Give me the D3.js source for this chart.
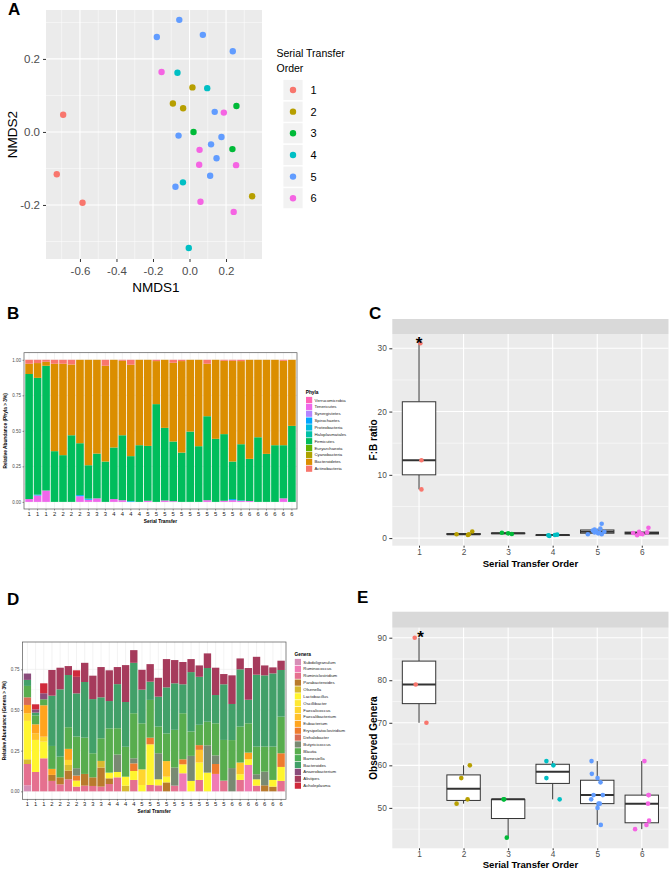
<!DOCTYPE html>
<html><head><meta charset="utf-8">
<script src="https://cdn.jsdelivr.net/npm/d3@7"></script>
<style>body{margin:0;background:#fff}svg{display:block;font-family:"Liberation Sans",Arial,Helvetica,sans-serif}</style>
</head><body><svg id="c" width="670" height="870"></svg>
<script>
// ---------------- DATA ----------------
const orderLevels = [1,2,3,4,5,6];
const orderColors = ["#F8766D","#B79F00","#00BA38","#00BFC4","#619CFF","#F564E3"];

// Panel A – NMDS
const nmdsOrder = [1,1,1, 2,2,2,2, 3,3,3, 4,4,4,4, 5,5,5,5,5,5,5,5,5,5,5, 6,6,6,6,6,6,6];
const nmds1 = [-0.692,-0.727,-0.586, 0.016,-0.091,-0.035,0.343, 0.257,0.022,0.235, -0.066,0.097,-0.036,-0.004,
  -0.056,-0.179,0.073,0.237,0.138,-0.06,0.175,0.118,0.148,0.113,-0.077, -0.153,0.188,0.055,0.053,0.255,0.06,0.242];
const nmds2 = [0.047,-0.116,-0.194, 0.122,0.078,0.065,-0.176, 0.071,0.0,-0.047, 0.162,0.12,-0.138,-0.318,
  0.307,0.26,0.266,0.221,0.055,-0.01,-0.014,-0.034,-0.072,-0.12,-0.15, 0.164,0.053,-0.049,-0.09,-0.091,-0.191,-0.219];
const nmdsXTicks = [-0.6,-0.4,-0.2,0.0,0.2];
const nmdsYTicks = [-0.2,0.0,0.2];

// Panels B/D – sample labels
const sampleLabels = ["1","1","1","2","2","2","2","3","3","3","4","4","4","4","5","5","5","5","5","5","5","5","5","5","5","6","6","6","6","6","6","6"];

// Panel B – phyla
const phyla = ["Verrucomicrobia","Tenericutes","Synergistetes","Spirochaetes","Proteobacteria","Haloplasmatales","Firmicutes","Euryarchaeota","Cyanobacteria","Bacteroidetes","Actinobacteria"];
const phylaColors = ["#FF63B6","#EF67EB","#B385FF","#00A6FF","#00BADE","#00C1A7","#00BD5C","#64B200","#AEA200","#DB8E00","#F8766D"];
const verrucomicrobia = [0,0,0,0,0,0,0,0,0,0,0,0,0,0,0,0,0,0,0,0,0,0,0,0,0,0,0,0,0,0,0,0];
const tenericutes = [0.02,0.045,0.08,0,0,0,0.04,0.015,0.025,0,0.02,0.012,0,0,0.008,0,0.01,0.005,0,0,0,0.012,0,0.008,0.012,0.006,0.006,0,0,0,0.025,0];
const synergistetes = [0,0,0,0,0,0,0,0,0,0,0,0,0,0,0,0,0,0,0,0,0,0,0,0,0,0,0,0,0,0,0,0];
const spirochaetes = [0,0.006,0,0,0,0,0.008,0.008,0,0,0,0,0.005,0,0,0,0,0,0,0,0,0,0,0,0.008,0.004,0,0,0,0,0,0];
const proteobacteria = [0,0,0,0,0,0,0,0,0,0,0,0,0,0,0,0,0,0,0,0,0,0,0,0,0,0,0,0,0,0,0,0];
const haloplasmatales = [0,0,0,0,0,0,0,0,0,0,0,0,0,0,0,0,0,0,0,0,0,0,0,0,0,0,0,0,0,0,0,0];
const firmicutes = [0.88,0.822,0.878,0.357,0.329,0.469,0.365,0.235,0.315,0.284,0.363,0.457,0.317,0.399,0.386,0.688,0.511,0.42,0.347,0.495,0.392,0.591,0.444,0.469,0.264,0.396,0.297,0.455,0.338,0.399,0.374,0.535];
const euryarchaeota = [0,0,0,0,0,0,0,0,0,0,0,0,0,0,0,0,0,0,0,0,0,0,0,0,0,0,0,0,0,0,0,0];
const cyanobacteria = [0,0,0,0,0,0,0,0,0,0,0,0,0,0,0,0,0,0,0,0,0,0,0,0,0,0,0,0,0,0,0,0];
const bacteroidetes = [0.072,0.104,0.028,0.615,0.643,0.498,0.587,0.742,0.66,0.674,0.617,0.524,0.643,0.601,0.606,0.303,0.479,0.554,0.644,0.505,0.608,0.369,0.556,0.516,0.709,0.585,0.697,0.545,0.662,0.601,0.594,0.465];
const actinobacteria = [0.028,0.023,0.014,0.028,0.028,0.033,0,0,0,0.042,0,0.007,0.035,0,0,0.009,0,0.021,0.009,0,0,0.028,0,0.007,0.007,0.009,0,0,0,0,0.007,0];
const phylaValues = [verrucomicrobia,tenericutes,synergistetes,spirochaetes,proteobacteria,haloplasmatales,firmicutes,euryarchaeota,cyanobacteria,bacteroidetes,actinobacteria];
const phylaTicks = [0,0.25,0.5,0.75,1.0];

// Panel D – genera
const genera = ["Subdoligranulum","Ruminococcus","Ruminiclostridium","Parabacteroides","Olsenella","Lactobacillus","Oscillibacter","Faecalicoccus","Faecalibacterium","Eubacterium","Erysipelatoclostridium","Dehalobacter","Butyricicoccus","Blautia","Barnesiella","Bacteroides","Anaerobacterium","Alistipes","Acholeplasma"];
const generaColors = ["#D68EB6","#F07AB4","#E5708F","#B97A2C","#D8B92F","#FFF52E","#FFE833","#FFD52E","#FFC12B","#FFA41E","#EE7B2E","#D86C55","#798A72","#58AD4E","#4DAE56","#42A069","#8A4C7B","#A63B5C","#D02A3C"];
const subdoligranulum = [0.037,0,0,0,0,0,0,0,0,0,0,0,0,0,0,0,0,0,0,0,0,0,0,0,0,0,0,0,0,0,0,0];
const ruminococcus = [0,0,0,0,0,0,0,0,0,0,0,0,0,0,0,0,0,0,0,0.111,0,0,0,0.107,0,0,0,0.162,0,0,0,0];
const ruminiclostridium = [0.131,0.119,0.203,0.064,0.043,0.074,0.029,0.035,0.033,0.029,0.045,0.086,0,0.07,0,0.039,0.037,0,0.035,0,0,0.07,0,0,0.066,0,0.07,0,0.035,0,0,0.064];
const parabacteroides = [0,0,0,0.037,0.043,0.053,0,0.072,0.053,0.117,0.035,0,0,0,0,0,0,0.055,0,0,0,0,0,0,0,0,0,0,0,0.037,0.029,0];
const olsenella = [0.029,0,0,0,0,0.035,0,0,0,0.041,0,0,0.035,0,0,0,0,0,0,0,0,0,0,0,0,0,0,0,0,0,0,0];
const lactobacillus = [0.236,0.197,0.102,0,0,0,0.037,0,0,0,0.035,0.033,0.055,0.055,0.039,0.25,0.037,0.035,0,0.055,0.064,0.107,0.115,0,0,0,0.035,0.035,0.039,0,0.041,0.086];
const oscillibacter = [0,0,0,0,0,0,0,0,0,0,0,0,0,0,0,0,0,0,0,0,0,0,0,0,0,0,0,0,0,0,0,0];
const faecalicoccus = [0.047,0,0.031,0,0,0.031,0,0,0,0,0,0,0,0,0.096,0,0,0,0,0,0,0,0,0,0,0,0,0,0,0,0,0];
const faecalibacterium = [0,0.041,0,0,0,0,0,0,0,0,0,0,0,0,0,0,0,0.096,0,0,0,0.078,0,0,0,0,0.072,0,0,0,0,0];
const eubacterium = [0.051,0.055,0.193,0.037,0,0.068,0,0,0,0,0,0,0,0,0,0,0,0,0,0,0,0,0,0,0,0,0,0.041,0,0,0,0];
const erysipelatoclostridium = [0,0,0,0,0,0,0.031,0,0,0,0,0,0,0.047,0,0.041,0,0,0,0.031,0,0.029,0,0.061,0,0,0,0,0,0,0,0.084];
const dehalobacter = [0.047,0,0,0,0,0,0,0,0,0,0,0,0,0,0,0,0,0,0,0,0,0,0,0,0,0,0,0,0,0,0,0];
const butyricicoccus = [0,0,0,0,0,0,0.045,0,0,0,0,0.107,0,0.031,0,0,0.16,0,0.111,0,0.154,0,0.168,0.053,0,0.143,0,0,0.031,0.084,0,0];
const blautia = [0.07,0.055,0.037,0.141,0.127,0.133,0.195,0.223,0.148,0.139,0.272,0.162,0.184,0.277,0.283,0.232,0.164,0.17,0.232,0.283,0.15,0.125,0.145,0.197,0.25,0.172,0.221,0.18,0.17,0.154,0.205,0.225];
const barnesiella = [0,0,0,0,0,0,0,0,0,0,0,0,0,0,0,0,0,0,0,0,0,0,0,0,0,0,0,0,0,0,0,0];
const bacteroides = [0.037,0.017,0,0.309,0.414,0.321,0.265,0.342,0.333,0.252,0.168,0.271,0.275,0.31,0.207,0.112,0.184,0.283,0.286,0.178,0.365,0.295,0.33,0.174,0.342,0.222,0.352,0.145,0.442,0.438,0.45,0.287];
const anaerobacterium = [0.039,0.02,0.037,0,0,0,0,0,0,0,0,0,0,0,0,0,0,0,0,0,0,0,0,0,0,0,0,0,0,0,0,0];
const alistipes = [0,0,0,0.158,0.133,0.055,0.102,0.118,0.144,0.186,0.189,0.105,0.227,0.078,0.122,0.108,0.116,0.174,0.143,0.137,0.08,0.07,0.09,0.168,0.063,0.176,0.067,0.195,0.11,0.061,0.037,0.057];
const acholeplasma = [0,0.031,0.061,0,0,0,0.04,0,0,0,0,0,0,0,0,0,0,0,0,0,0,0,0,0,0,0,0,0,0,0,0,0];
const generaValues = [subdoligranulum,ruminococcus,ruminiclostridium,parabacteroides,olsenella,lactobacillus,oscillibacter,faecalicoccus,faecalibacterium,eubacterium,erysipelatoclostridium,dehalobacter,butyricicoccus,blautia,barnesiella,bacteroides,anaerobacterium,alistipes,acholeplasma];
const generaTicks = [0,0.25,0.5,0.75];

// Panel C – F:B ratio
const boxGroup = [1,1,1, 2,2,2,2, 3,3,3, 4,4,4,4, 5,5,5,5,5,5,5,5,5,5,5, 6,6,6,6,6,6,6];
const fbRatio = [30.8,12.3,7.7, 0.6,0.5,0.6,1.05, 0.85,0.65,0.75, 0.45,0.35,0.5,0.55, 0.6,0.9,1.1,0.75,0.6,1.0,2.26,1.37,0.8,1.2,1.5, 0.8,0.45,1.0,0.6,0.9,1.63,0.7];
const fbJitter = [0.03,0.054,0.054, -0.157,0.097,0.12,0.195, -0.14,0.083,0.0, -0.097,-0.075,0.05,0.1, -0.21,-0.06,-0.02,0.02,0.1,0.16,0.1,-0.06,0.05,-0.1,0.07, -0.195,-0.105,-0.06,0.015,0.12,0.15,-0.03];
const fbTicks = [0,10,20,30];

// Panel E – observed genera
const observedGenera = [90,79,70, 60,57,52,51, 52,52,43, 61,60,57,52, 61,58,57,56,53,53,52,51,51,50,46, 61,53,53,51,47,46,45];
const obsJitter = [-0.097,-0.074,0.166, 0.141,-0.052,0.09,-0.157, -0.103,-0.09,-0.03, -0.141,0.016,-0.141,0.157, -0.128,-0.121,0.007,0.074,-0.083,0.126,-0.135,0.03,0.058,0.007,0.08, 0.06,0.157,0.15,0.14,0.164,0.105,-0.15];
const obsTicks = [50,60,70,80,90];

// ---------------- DRAW ----------------
const svg = d3.select("#c");
svg.append("rect").attr("width",670).attr("height",870).attr("fill","#fff");
const color = d3.scaleOrdinal(orderLevels, orderColors);

function letter(t,x,y){ svg.append("text").attr("x",x).attr("y",y).attr("font-size",17).attr("font-weight","bold").attr("fill","#000").text(t); }

// ===== Panel A =====
(function(){
  const X0=46,X1=262,Y0=10,Y1=259;
  const x = d3.scaleLinear().domain([-0.786,0.397]).range([X0,X1]);
  const y = d3.scaleLinear().domain([-0.348,0.334]).range([Y1,Y0]);
  const g = svg.append("g");
  g.append("rect").attr("x",X0).attr("y",Y0).attr("width",X1-X0).attr("height",Y1-Y0).attr("fill","#EBEBEB");
  const xMinor = [-0.7,-0.5,-0.3,-0.1,0.1,0.3], yMinor=[-0.3,-0.1,0.1,0.3];
  g.selectAll(".xm").data(xMinor).join("line").attr("x1",d=>x(d)).attr("x2",d=>x(d)).attr("y1",Y0).attr("y2",Y1).attr("stroke","#fff").attr("stroke-width",0.5);
  g.selectAll(".ym").data(yMinor).join("line").attr("y1",d=>y(d)).attr("y2",d=>y(d)).attr("x1",X0).attr("x2",X1).attr("stroke","#fff").attr("stroke-width",0.5);
  g.selectAll(".xM").data(nmdsXTicks).join("line").attr("x1",d=>x(d)).attr("x2",d=>x(d)).attr("y1",Y0).attr("y2",Y1).attr("stroke","#fff").attr("stroke-width",1.1);
  g.selectAll(".yM").data(nmdsYTicks).join("line").attr("y1",d=>y(d)).attr("y2",d=>y(d)).attr("x1",X0).attr("x2",X1).attr("stroke","#fff").attr("stroke-width",1.1);
  g.selectAll("circle").data(nmds1.map((v,i)=>({x:v,y:nmds2[i],g:nmdsOrder[i]}))).join("circle")
    .attr("cx",d=>x(d.x)).attr("cy",d=>y(d.y)).attr("r",3.2).attr("fill",d=>color(d.g));
  const xa = g.append("g").attr("transform",`translate(0,${Y1})`).call(d3.axisBottom(x).tickValues(nmdsXTicks).tickSize(3).tickPadding(5).tickFormat(d=>d.toFixed(1)));
  const ya = g.append("g").attr("transform",`translate(${X0},0)`).call(d3.axisLeft(y).tickValues(nmdsYTicks).tickSize(3).tickPadding(3).tickFormat(d=>d.toFixed(1)));
  [xa,ya].forEach(a=>{a.select(".domain").remove(); a.selectAll("line").attr("stroke","#333"); a.selectAll("text").attr("fill","#4D4D4D").attr("font-size",11.5).attr("font-family","Liberation Sans, Arial");});
  g.append("text").attr("x",(X0+X1)/2+2).attr("y",292).attr("text-anchor","middle").attr("font-size",13.5).text("NMDS1");
  g.append("text").attr("transform",`translate(17,${(Y0+Y1)/2}) rotate(-90)`).attr("text-anchor","middle").attr("font-size",13.5).text("NMDS2");
  // legend
  g.append("text").attr("x",276.5).attr("y",57).attr("font-size",10.5).text("Serial Transfer");
  g.append("text").attr("x",276.5).attr("y",71.5).attr("font-size",10.5).text("Order");
  const lg = g.selectAll(".lg").data(orderLevels).join("g").attr("transform",(d,i)=>`translate(283,${90+i*21.65})`);
  lg.append("rect").attr("x",0).attr("y",-10.5).attr("width",20).attr("height",21).attr("fill","#F2F2F2").attr("stroke","#fff").attr("stroke-width",0.8);
  lg.append("circle").attr("cx",10).attr("cy",0).attr("r",3.2).attr("fill",d=>color(d));
  lg.append("text").attr("x",27.5).attr("y",4).attr("font-size",11).text(d=>d);
  letter("A",8,15);
})();

// ===== Stacked bars =====
function drawStack(o){
  const n = sampleLabels.length;
  const x = d3.scaleBand().domain(d3.range(n)).range([o.x0,o.x1]).paddingInner(0.1).paddingOuter(0.15);
  const y = d3.scaleLinear().domain(o.domain).range([o.y1,o.y0]);
  const col = d3.scaleOrdinal(o.series,o.colors);
  const g = svg.append("g");
  g.append("rect").attr("x",o.x0).attr("y",o.y0).attr("width",o.x1-o.x0).attr("height",o.y1-o.y0).attr("fill","#fff");
  const minorY = o.ticks.slice(0,-1).map((t,i)=>(t+o.ticks[i+1])/2);
  g.selectAll(".gy").data(minorY).join("line").attr("x1",o.x0).attr("x2",o.x1).attr("y1",d=>y(d)).attr("y2",d=>y(d)).attr("stroke","#EBEBEB").attr("stroke-width",0.3);
  g.selectAll(".gY").data(o.ticks).join("line").attr("x1",o.x0).attr("x2",o.x1).attr("y1",d=>y(d)).attr("y2",d=>y(d)).attr("stroke","#EBEBEB").attr("stroke-width",0.6);
  g.selectAll(".gX").data(d3.range(n)).join("line").attr("y1",o.y0).attr("y2",o.y1).attr("x1",d=>x(d)+x.bandwidth()/2).attr("x2",d=>x(d)+x.bandwidth()/2).attr("stroke","#EBEBEB").attr("stroke-width",0.6);
  const rows = d3.range(n).map(i=>{const r={i}; o.series.forEach((s,k)=>r[s]=o.values[k][i]); return r;});
  const st = d3.stack().keys(o.series)(rows);
  g.selectAll(".ser").data(st).join("g").attr("fill",d=>col(d.key))
    .selectAll("rect").data(d=>d).join("rect")
    .attr("x",d=>x(d.data.i)).attr("width",x.bandwidth()).attr("y",d=>y(d[1])).attr("height",d=>Math.max(0,y(d[0])-y(d[1])));
  g.append("rect").attr("x",o.x0).attr("y",o.y0).attr("width",o.x1-o.x0).attr("height",o.y1-o.y0).attr("fill","none").attr("stroke","#555").attr("stroke-width",0.7);
  const xa = g.append("g").attr("transform",`translate(0,${o.y1})`).call(d3.axisBottom(x).tickSize(1.5).tickPadding(1.5).tickFormat(i=>sampleLabels[i]));
  const ya = g.append("g").attr("transform",`translate(${o.x0},0)`).call(d3.axisLeft(y).tickValues(o.ticks).tickSize(1.5).tickPadding(1.5).tickFormat(d=>d.toFixed(2)));
  [xa,ya].forEach(a=>{a.select(".domain").remove(); a.selectAll("line").attr("stroke","#333").attr("stroke-width",0.5); a.selectAll("text").attr("font-family","Liberation Sans, Arial");});
  xa.selectAll("text").attr("font-size",5.8).attr("fill","#1A1A1A");
  ya.selectAll("text").attr("font-size",4.5).attr("fill","#4D4D4D");
  g.append("text").attr("x",(o.x0+o.x1)/2).attr("y",o.y1+13.5).attr("text-anchor","middle").attr("font-size",4.8).attr("font-weight","bold").text("Serial Transfer");
  g.append("text").attr("transform",`translate(${o.ylabX},${(o.y0+o.y1)/2}) rotate(-90)`).attr("text-anchor","middle").attr("font-size",4.8).attr("font-weight","bold").text(o.yTitle);
  // legend
  g.append("text").attr("x",o.lx).attr("y",o.ly-6.5).attr("font-size",4.8).attr("font-weight","bold").text(o.lTitle);
  const lg = g.selectAll(".lg").data(o.series).join("g").attr("transform",(d,i)=>`translate(${o.lx},${o.ly+i*6.87})`);
  lg.append("rect").attr("x",0.3).attr("y",-3.1).attr("width",6.2).attr("height",6.2).attr("fill",d=>col(d));
  lg.append("text").attr("x",8.8).attr("y",1.5).attr("font-size",4.3).attr("fill","#1A1A1A").text(d=>d);
}

drawStack({series:phyla,colors:phylaColors,values:phylaValues,x0:24,x1:297,y0:352.7,y1:509,domain:[-0.05,1.05],ticks:phylaTicks,
  yTitle:"Relative Abundance (Phyla > 3%)",ylabX:7,lTitle:"Phyla",lx:305.7,ly:400});
letter("B",7,319);

drawStack({series:genera,colors:generaColors,values:generaValues,x0:22.5,x1:286,y0:642,y1:799.3,domain:[-0.049,0.918],ticks:generaTicks,
  yTitle:"Relative Abundance (Genera > 3%)",ylabX:6,lTitle:"Genera",lx:294.5,ly:662});
letter("D",7,605);

// ===== Box plots =====
function drawBox(o){
  const X0=392.3,X1=668.5;
  const x = d3.scaleLinear().domain([0.4,6.6]).range([X0,X1]);
  const y = d3.scaleLinear().domain(o.domain).range([o.y1,o.y0]);
  const g = svg.append("g");
  g.append("rect").attr("x",X0).attr("y",o.y0).attr("width",X1-X0).attr("height",o.y1-o.y0).attr("fill","#EBEBEB");
  g.append("rect").attr("x",X0).attr("y",o.sy).attr("width",X1-X0).attr("height",o.y0-o.sy).attr("fill","#D9D9D9");
  g.selectAll(".mn").data(o.minor).join("line").attr("x1",X0).attr("x2",X1).attr("y1",d=>y(d)).attr("y2",d=>y(d)).attr("stroke","#fff").attr("stroke-width",0.5);
  g.selectAll(".mj").data(o.ticks).join("line").attr("x1",X0).attr("x2",X1).attr("y1",d=>y(d)).attr("y2",d=>y(d)).attr("stroke","#fff").attr("stroke-width",1.1);
  g.selectAll(".mx").data(orderLevels).join("line").attr("y1",o.y0).attr("y2",o.y1).attr("x1",d=>x(d)).attr("x2",d=>x(d)).attr("stroke","#fff").attr("stroke-width",1.1);
  const stats = orderLevels.map(lv=>{
    const v = o.values.filter((_,i)=>boxGroup[i]===lv).sort(d3.ascending);
    const q1=d3.quantile(v,0.25), med=d3.quantile(v,0.5), q3=d3.quantile(v,0.75), iqr=q3-q1;
    const lo=d3.min(v.filter(d=>d>=q1-1.5*iqr)), hi=d3.max(v.filter(d=>d<=q3+1.5*iqr));
    return {lv,q1,med,q3,lo,hi};
  });
  const hw = 0.375;
  const bg = g.selectAll(".bx").data(stats).join("g");
  bg.append("line").attr("x1",d=>x(d.lv)).attr("x2",d=>x(d.lv)).attr("y1",d=>y(d.q3)).attr("y2",d=>y(d.hi)).attr("stroke","#333").attr("stroke-width",1);
  bg.append("line").attr("x1",d=>x(d.lv)).attr("x2",d=>x(d.lv)).attr("y1",d=>y(d.q1)).attr("y2",d=>y(d.lo)).attr("stroke","#333").attr("stroke-width",1);
  bg.append("rect").attr("x",d=>x(d.lv-hw)).attr("width",d=>x(d.lv+hw)-x(d.lv-hw)).attr("y",d=>y(d.q3)).attr("height",d=>Math.max(0.5,y(d.q1)-y(d.q3)))
    .attr("fill","#fff").attr("stroke","#333").attr("stroke-width",1);
  bg.append("line").attr("x1",d=>x(d.lv-hw)).attr("x2",d=>x(d.lv+hw)).attr("y1",d=>y(d.med)).attr("y2",d=>y(d.med)).attr("stroke","#333").attr("stroke-width",2);
  g.selectAll("circle").data(o.values.map((v,i)=>({v,g:boxGroup[i],j:o.jitter[i]}))).join("circle")
    .attr("cx",d=>x(d.g+d.j)).attr("cy",d=>y(d.v)).attr("r",2.3).attr("fill",d=>color(d.g));
  g.append("text").attr("x",x(1)+o.starDx).attr("y",o.starY).attr("text-anchor","middle").attr("font-size",17).attr("font-weight","bold").text("*");
  const xa = g.append("g").attr("transform",`translate(0,${o.y1})`).call(d3.axisBottom(x).tickValues(orderLevels).tickSize(2).tickPadding(1).tickFormat(d3.format("d")));
  const ya = g.append("g").attr("transform",`translate(${X0},0)`).call(d3.axisLeft(y).tickValues(o.ticks).tickSize(3).tickPadding(2.5).tickFormat(d3.format("d")));
  [xa,ya].forEach(a=>{a.select(".domain").remove(); a.selectAll("line").attr("stroke","#333"); a.selectAll("text").attr("fill","#4D4D4D").attr("font-size",8.3).attr("font-family","Liberation Sans, Arial");});
  g.append("text").attr("x",(X0+X1)/2).attr("y",o.titleY).attr("text-anchor","middle").attr("font-size",9.6).attr("font-weight","bold").text("Serial Transfer Order");
  g.append("text").attr("transform",`translate(376.5,${(o.y0+o.y1)/2}) rotate(-90)`).attr("text-anchor","middle").attr("font-size",10).attr("font-weight","bold").text(o.ylab);
}

drawBox({values:fbRatio,jitter:fbJitter,domain:[-1.2,32.26],y0:334,y1:545.7,sy:319,ticks:fbTicks,minor:[5,15,25],
  ylab:"F:B ratio",titleY:567,starY:349,starDx:0});
letter("C",369,319);
drawBox({values:observedGenera,jitter:obsJitter,domain:[40.5,92.35],y0:627.7,y1:848.3,sy:611.7,ticks:obsTicks,minor:[45,55,65,75,85],
  ylab:"Observed Genera",titleY:867.6,starY:643,starDx:1.5});
letter("E",357,603);
</script></body></html>
